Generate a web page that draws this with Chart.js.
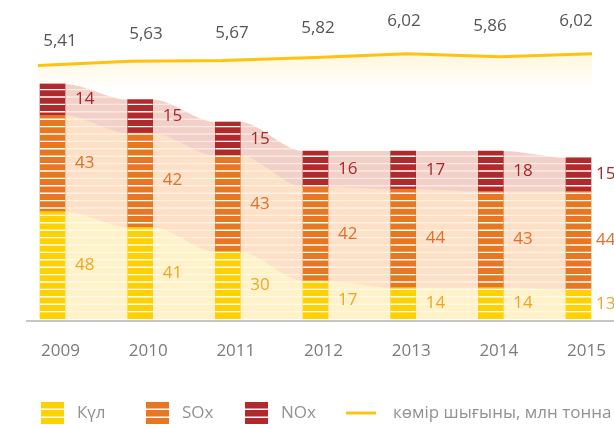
<!DOCTYPE html>
<html>
<head>
<meta charset="utf-8">
<script src="https://cdn.jsdelivr.net/npm/chart.js@4"></script>
<style>
  html, body { margin: 0; padding: 0; background: #fff; }
  .chart-container { position: relative; width: 614px; height: 428px; }
</style>
</head>
<body>
<div class="chart-container"><canvas id="emissionChart"></canvas></div>
<script>
const years = ["2009", "2010", "2011", "2012", "2013", "2014", "2015"];
const ash = [48, 41, 30, 17, 14, 14, 13];
const sox = [43, 42, 43, 42, 44, 43, 44];
const nox = [14, 15, 15, 16, 17, 18, 15];
const coal = [5.41, 5.63, 5.67, 5.82, 6.02, 5.86, 6.02];
const seriesNames = ["Күл", "SOx", "NOx", "көмір шығыны, млн тонна"];

const FONT = '"Open Sans", "Noto Sans", sans-serif';
const barColors = ["#FFD100", "#E87722", "#B0292B"];
const shadeColors = ["#FFF2C9", "#FDE0C6", "#F3D0C7"];
const labelColors = ["#F4A322", "#E0702A", "#A8262B"];
const lineColor = "#FFC20E";
const STRIPE = 7.4;

function toPoints(values) {
  return values.map((v, i) => ({ x: i, y: v }));
}

// band from the tops of a bar layer down to the baseline
function bandPath(ctx, bars, base) {
  ctx.beginPath();
  bars.forEach((b, i) => {
    const l = b.x - b.width / 2;
    const r = b.x + b.width / 2;
    if (i === 0) {
      ctx.moveTo(l, b.y);
    } else {
      const p = bars[i - 1];
      const pr = p.x + p.width / 2;
      const d = l - pr;
      ctx.bezierCurveTo(pr + d * 0.3, p.y, l - d * 0.3, b.y, l, b.y);
    }
    ctx.lineTo(r, b.y);
  });
  const first = bars[0];
  const last = bars[bars.length - 1];
  ctx.lineTo(last.x + last.width / 2, base);
  ctx.lineTo(first.x - first.width / 2, base);
  ctx.closePath();
}

function drawStripes(ctx, chart, base, color) {
  ctx.strokeStyle = color;
  ctx.lineWidth = 1.4;
  for (let y = base - STRIPE; y > 0; y -= STRIPE) {
    ctx.beginPath();
    ctx.moveTo(0, y);
    ctx.lineTo(chart.width, y);
    ctx.stroke();
  }
}

const decor = {
  id: "decor",
  beforeDatasetsDraw(chart) {
    const ctx = chart.ctx;
    const base = chart.scales.y.getPixelForValue(0);
    ctx.save();
    for (let k = 2; k >= 0; k--) {
      bandPath(ctx, chart.getDatasetMeta(k).data, base);
      ctx.fillStyle = shadeColors[k];
      ctx.fill();
    }
    bandPath(ctx, chart.getDatasetMeta(2).data, base);
    ctx.clip();
    drawStripes(ctx, chart, base, "rgba(255,255,255,0.55)");
    ctx.restore();
  },
  afterDatasetsDraw(chart) {
    const ctx = chart.ctx;
    const base = chart.scales.y.getPixelForValue(0);

    // white stripes over the bars
    ctx.save();
    ctx.beginPath();
    chart.getDatasetMeta(2).data.forEach((b) => {
      ctx.rect(b.x - b.width / 2, b.y, b.width, base - b.y);
    });
    ctx.clip();
    drawStripes(ctx, chart, base, "#ffffff");
    ctx.restore();

    // axis line
    ctx.save();
    ctx.strokeStyle = "#b3b3b3";
    ctx.lineWidth = 1.5;
    ctx.beginPath();
    ctx.moveTo(26, base + 2);
    ctx.lineTo(chart.width, base + 2);
    ctx.stroke();
    ctx.restore();

    // value labels next to bars
    ctx.save();
    ctx.font = "17px " + FONT;
    ctx.textAlign = "left";
    ctx.textBaseline = "middle";
    [ash, sox, nox].forEach((vals, k) => {
      const meta = chart.getDatasetMeta(k);
      ctx.fillStyle = labelColors[k];
      meta.data.forEach((el, i) => {
        const gap = i === years.length - 1 ? 5 : 10;
        ctx.fillText(String(vals[i]), el.x + el.width / 2 + gap, (el.y + el.base) / 2);
      });
    });

    // coal values above the line (labels sit on a slightly tighter spacing than the bars)
    const xScale = chart.scales.x;
    const lowest = Math.min(...coal);
    ctx.fillStyle = "#555555";
    ctx.textAlign = "center";
    chart.getDatasetMeta(3).data.forEach((pt, i) => {
      const lift = 24 + (coal[i] - lowest) * 14;
      const lx = xScale.getPixelForValue(i * 0.981) + 7.5;
      ctx.fillText(coal[i].toFixed(2).replace(".", ","), lx, pt.y - lift);
    });
    ctx.restore();
  },
  afterDraw(chart) {
    const ctx = chart.ctx;
    const cy = 413;
    const xs = [41, 146, 245, 346];
    ctx.save();
    ctx.font = "17px " + FONT;
    ctx.textBaseline = "middle";
    ctx.textAlign = "left";
    for (let k = 0; k < 3; k++) {
      ctx.fillStyle = barColors[k];
      ctx.fillRect(xs[k], cy - 11, 23, 22);
      ctx.fillStyle = "#ffffff";
      ctx.fillRect(xs[k], cy - 4.5, 23, 1.5);
      ctx.fillRect(xs[k], cy + 3.5, 23, 1.5);
      ctx.fillStyle = "#929292";
      ctx.fillText(seriesNames[k], xs[k] + 36, cy);
    }
    ctx.strokeStyle = lineColor;
    ctx.lineWidth = 3;
    ctx.beginPath();
    ctx.moveTo(xs[3], cy);
    ctx.lineTo(xs[3] + 30, cy);
    ctx.stroke();
    ctx.fillStyle = "#929292";
    ctx.fillText(seriesNames[3], xs[3] + 47, cy);
    ctx.restore();
  },
};

const ctx = document.getElementById("emissionChart").getContext("2d");
const emissionChart = new Chart(ctx, {
  type: "bar",
  data: {
    datasets: [
      { label: seriesNames[0], data: toPoints(ash), backgroundColor: barColors[0], yAxisID: "y" },
      { label: seriesNames[1], data: toPoints(sox), backgroundColor: barColors[1], yAxisID: "y" },
      { label: seriesNames[2], data: toPoints(nox), backgroundColor: barColors[2], yAxisID: "y" },
      {
        type: "line",
        label: seriesNames[3],
        data: toPoints(coal),
        xAxisID: "x2",
        yAxisID: "y2",
        borderColor: lineColor,
        borderWidth: 3,
        pointRadius: 0,
        tension: 0,
        fill: "start",
        backgroundColor: function (c) {
          const g = c.chart.ctx.createLinearGradient(0, 52, 0, 90);
          g.addColorStop(0, "rgba(255, 214, 90, 0.22)");
          g.addColorStop(1, "rgba(255, 214, 90, 0)");
          return g;
        },
      },
    ],
  },
  options: {
    responsive: true,
    maintainAspectRatio: false,
    animation: false,
    grouped: false,
    barThickness: 25,
    layout: { padding: { top: 0, left: 0, right: 0, bottom: 44.6 } },
    plugins: {
      legend: { display: false },
      tooltip: { enabled: false },
    },
    scales: {
      x: {
        type: "linear",
        stacked: true,
        offset: false,
        min: -0.599,
        max: 6.405,
        grid: { display: false, drawTicks: false, offset: false },
        border: { display: false },
        afterFit: function (scale) {
          scale.paddingLeft = 0;
          scale.paddingRight = 0;
        },
        ticks: {
          stepSize: 1,
          includeBounds: false,
          autoSkip: false,
          maxRotation: 0,
          labelOffset: 8,
          padding: 22,
          color: "#7b7b7b",
          font: { size: 17, family: FONT },
          callback: function (v) {
            return years[v] !== undefined ? years[v] : "";
          },
        },
      },
      x2: {
        type: "linear",
        display: false,
        offset: false,
        min: -0.4116,
        max: 6.238,
      },
      y: {
        display: false,
        stacked: true,
        min: 0,
        max: 142.5,
      },
      y2: {
        display: false,
        min: -7.81,
        max: 8.82,
      },
    },
  },
  plugins: [decor],
});
</script>
</body>
</html>
